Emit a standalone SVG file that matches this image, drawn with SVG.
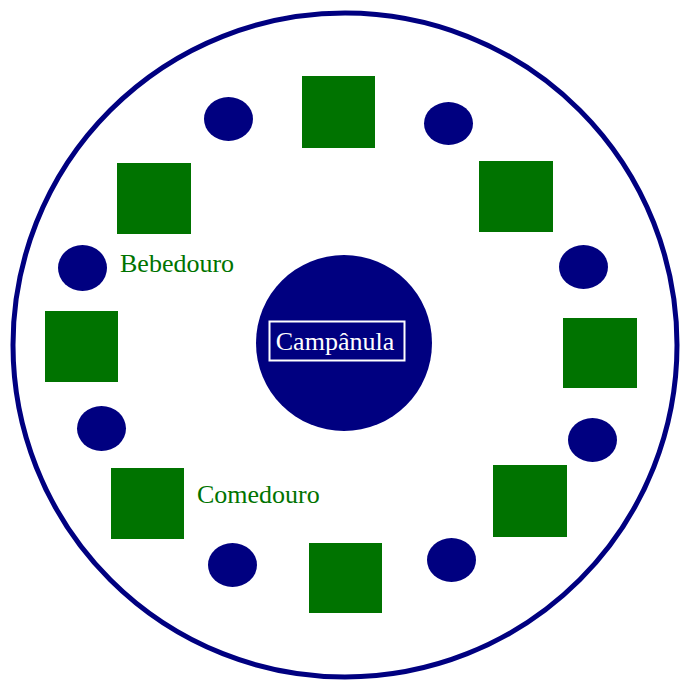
<svg xmlns="http://www.w3.org/2000/svg" width="680" height="683" viewBox="0 0 680 683">
<style>
.sq{fill:#007300}
.dot{fill:#000080}
.lbl{font-family:"Liberation Serif","Times New Roman",serif;font-size:26px}
.g{fill:#007300}
</style>
<rect width="680" height="683" fill="#fff"/>
<g id="outer"><circle cx="345" cy="345" r="332" fill="none" stroke="#000080" stroke-width="5"/></g>
<g id="campanula">
<circle cx="344" cy="343" r="88" fill="#000080"/>
<rect x="269.5" y="321.5" width="135" height="39" fill="none" stroke="#fff" stroke-width="2"/>
<text class="lbl" x="335" y="350" text-anchor="middle" fill="#fff">Campânula</text>
</g>
<g id="feeders">
<rect id="c1" class="sq" x="302" y="76" width="73" height="72"/>
<rect id="c2" class="sq" x="117" y="163" width="74" height="71"/>
<rect id="c3" class="sq" x="479" y="161" width="74" height="71"/>
<rect id="c4" class="sq" x="45" y="311" width="73" height="71"/>
<rect id="c5" class="sq" x="563" y="318" width="74" height="70"/>
<rect id="c6" class="sq" x="111" y="468" width="73" height="71"/>
<rect id="c7" class="sq" x="493" y="465" width="74" height="72"/>
<rect id="c8" class="sq" x="309" y="543" width="73" height="70"/>
</g>
<g id="drinkers">
<ellipse id="b1" class="dot" cx="228.5" cy="119" rx="24.5" ry="22"/>
<ellipse id="b2" class="dot" cx="448.5" cy="123.5" rx="24.5" ry="21.5"/>
<ellipse id="b3" class="dot" cx="82.5" cy="268" rx="24.5" ry="23"/>
<ellipse id="b4" class="dot" cx="583.5" cy="267" rx="24.5" ry="22"/>
<ellipse id="b5" class="dot" cx="101.5" cy="428.5" rx="24.5" ry="22.5"/>
<ellipse id="b6" class="dot" cx="592.5" cy="440" rx="24.5" ry="22"/>
<ellipse id="b7" class="dot" cx="232.5" cy="565" rx="24.5" ry="22"/>
<ellipse id="b8" class="dot" cx="451.5" cy="560" rx="24.5" ry="22"/>
</g>
<g id="labels">
<text class="lbl g" x="120" y="272">Bebedouro</text>
<text class="lbl g" x="197" y="503">Comedouro</text>
</g>
</svg>
